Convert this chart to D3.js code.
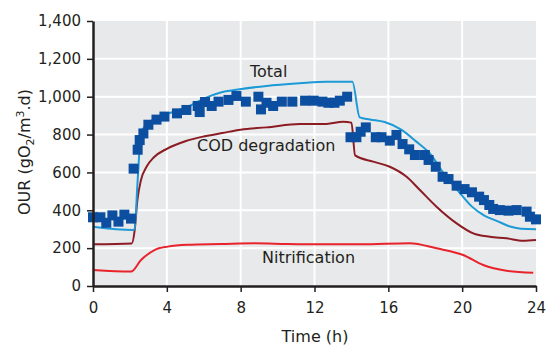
<!DOCTYPE html>
<html>
<head>
<meta charset="utf-8">
<script src="https://cdn.jsdelivr.net/npm/d3@7"></script>
<style>
  body { margin: 0; background: #fff; }
  text { font-family: "DejaVu Sans", sans-serif; fill: #231f20; }
</style>
</head>
<body>
<div id="canvas"></div>
<script>
// measured OUR (markers)
const measHours = [0.0, 0.4, 0.72, 1.05, 1.38, 1.7, 2.06, 2.2, 2.42, 2.53, 2.73, 3.0, 3.44, 3.87, 4.55, 5.06, 5.67, 5.78, 6.07, 6.43, 6.8, 7.34, 7.77, 8.28, 8.96, 9.1, 9.4, 9.76, 10.23, 10.8, 11.49, 11.96, 12.43, 12.76, 13.08, 13.37, 13.77,
  13.95, 14.27, 14.5, 14.78, 15.32, 15.63, 16.08, 16.44, 16.77, 17.13, 17.44, 17.98, 18.18, 18.57, 18.94, 19.26, 19.7, 20.13, 20.53, 20.92, 21.18, 21.47, 21.68, 22.04, 22.51, 22.95, 23.49, 23.67, 24.0];
const measOur = [363, 363, 334, 373, 340, 377, 356, 620, 720, 771, 806, 852, 879, 895, 912, 930, 951, 919, 972, 951, 974, 983, 1004, 974, 1000, 933, 968, 951, 974, 974, 979, 979, 974, 968, 968, 979, 1000,
  786, 786, 815, 838, 786, 786, 768, 798, 750, 722, 692, 692, 666, 630, 577, 565, 530, 512, 495, 472, 454, 428, 407, 401, 398, 401, 393, 366, 352];

// model: total
const totalHours = [0, 2.15, 2.25, 2.42, 2.6, 2.96, 3.87, 5.13, 6.0, 6.87, 7.95, 9.4, 11.2, 12.65, 14.05, 14.45, 15.0, 15.8, 16.7, 17.5, 18.25, 19.0, 19.8, 20.5, 21.2, 21.9, 22.6, 23.2, 24];
const totalOur = [313, 296, 300, 560, 807, 860, 903, 947, 990, 1021, 1039, 1057, 1071, 1079, 1079, 891, 880, 866, 826, 764, 700, 595, 500, 422, 372, 343, 314, 302, 300];

// model: COD degradation
const codHours = [0, 2.1, 2.26, 2.4, 2.6, 2.9, 3.3, 4.0, 5.0, 6.0, 7.0, 8.0, 9.4, 11.2, 12.65, 13.55, 14.0, 14.2, 15.18, 16.08, 16.99, 17.71, 18.61, 19.7, 20.6, 21.5, 22.4, 23.3, 24];
const codOur = [220, 225, 296, 450, 560, 630, 680, 725, 765, 790, 808, 826, 838, 856, 856, 868, 863, 690, 657, 630, 577, 507, 419, 331, 278, 260, 252, 239, 243];

// model: nitrification
const nitHours = [0, 2.06, 2.6, 3.33, 4.05, 5.13, 6.94, 8.75, 10.55, 12.5, 14.5, 17.16, 18.61, 20.05, 21.14, 22.4, 23.85];
const nitOur = [85, 76, 137, 190, 208, 218, 222, 226, 222, 220, 220, 226, 199, 164, 111, 81, 70];

const xTicks = [0, 4, 8, 12, 16, 20, 24];
const yTicks = [0, 200, 400, 600, 800, 1000, 1200, 1400];

const width = 551;
const height = 347;
const margin = { top: 21, left: 93, bottom: 61, right: 15 };
const iwidth = width - margin.left - margin.right;
const iheight = height - margin.top - margin.bottom;

const svg = d3.select("#canvas").append("svg")
  .attr("width", width)
  .attr("height", height);

const g = svg.append("g").attr("transform", `translate(${margin.left},${margin.top})`);

const x = d3.scaleLinear().domain([0, 24]).range([0, iwidth]);
const y = d3.scaleLinear().domain([0, 1400]).range([iheight, 0]);

g.append("rect")
  .attr("width", iwidth)
  .attr("height", iheight)
  .attr("fill", "#e8e9eb");

// grid
g.selectAll(".hgrid").data(yTicks.filter(d => d > 0 && d < 1400)).enter().append("line")
  .attr("x1", 0).attr("x2", iwidth)
  .attr("y1", d => y(d)).attr("y2", d => y(d))
  .attr("stroke", "#fff").attr("stroke-width", 2);
g.selectAll(".vgrid").data(xTicks.filter(d => d > 0 && d < 24)).enter().append("line")
  .attr("y1", 0).attr("y2", iheight)
  .attr("x1", d => x(d)).attr("x2", d => x(d))
  .attr("stroke", "#fff").attr("stroke-width", 2);

const line = d3.line()
  .x(d => x(d[0]))
  .y(d => y(d[1]))
  .curve(d3.curveMonotoneX);

const series = [
  { h: nitHours, v: nitOur, color: "#e8232b" },
  { h: codHours, v: codOur, color: "#8c1c24" },
  { h: totalHours, v: totalOur, color: "#1c9ad8" }
];
series.forEach(s => {
  g.append("path")
    .datum(d3.zip(s.h, s.v))
    .attr("fill", "none")
    .attr("stroke", s.color)
    .attr("stroke-width", 2)
    .attr("d", line);
});

const ms = 10;
g.selectAll(".pt").data(d3.zip(measHours, measOur)).enter().append("rect")
  .attr("x", d => x(d[0]) - ms / 2)
  .attr("y", d => y(d[1]) - ms / 2)
  .attr("width", ms)
  .attr("height", ms)
  .attr("fill", "#0c4fa0");

// axes
const xAxis = g.append("g")
  .attr("transform", `translate(0,${iheight})`)
  .call(d3.axisBottom(x).tickValues(xTicks).tickSize(6).tickSizeOuter(0).tickPadding(10));
const yAxis = g.append("g")
  .call(d3.axisLeft(y).tickValues(yTicks).tickFormat(d3.format(",")).tickSize(6).tickSizeOuter(0).tickPadding(6));

[xAxis, yAxis].forEach(a => {
  a.select(".domain").attr("stroke", "#231f20").attr("stroke-width", 2.5);
  a.selectAll(".tick line").attr("stroke", "#231f20").attr("stroke-width", 1.5);
  a.selectAll(".tick text").attr("font-size", 15).attr("font-family", "DejaVu Sans").attr("fill", "#231f20");
});

// labels
svg.append("text")
  .attr("x", 315).attr("y", 342)
  .attr("text-anchor", "middle")
  .attr("font-size", 16)
  .text("Time (h)");

const yl = svg.append("text")
  .attr("transform", "translate(30,152) rotate(-90)")
  .attr("text-anchor", "middle")
  .attr("font-size", 16);
yl.append("tspan").text("OUR (gO");
yl.append("tspan").attr("font-size", 11).attr("dy", 4).text("2");
yl.append("tspan").attr("dy", -4).text("/m");
yl.append("tspan").attr("font-size", 11).attr("dy", -6).text("3");
yl.append("tspan").attr("dy", 6).text(".d)");

svg.append("text").attr("x", 250).attr("y", 77).attr("font-size", 16).text("Total");
svg.append("text").attr("x", 197).attr("y", 151).attr("font-size", 16).text("COD degradation");
svg.append("text").attr("x", 262).attr("y", 263).attr("font-size", 16).text("Nitrification");
</script>
</body>
</html>
